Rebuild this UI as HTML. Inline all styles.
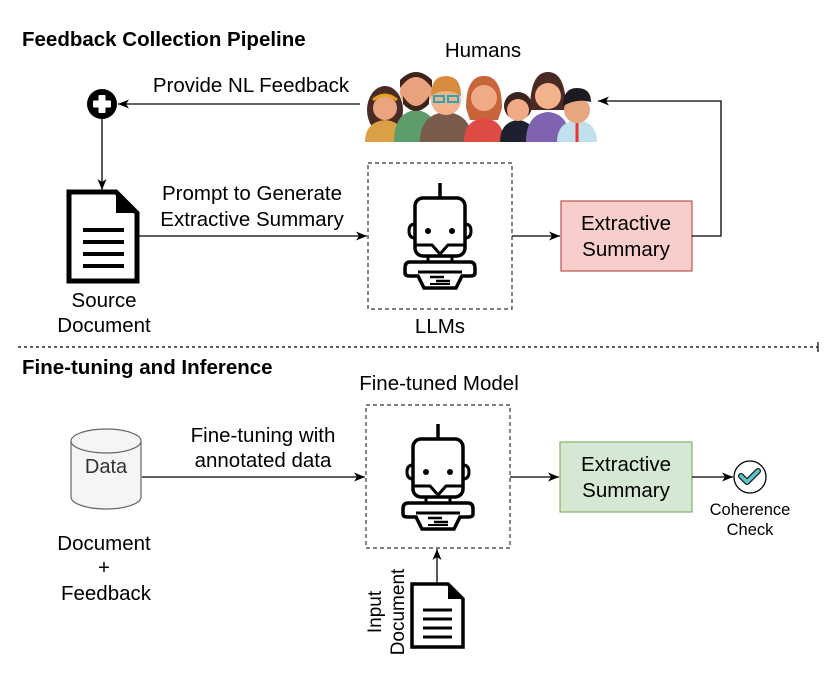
<!DOCTYPE html>
<html><head><meta charset="utf-8"><style>
html,body{margin:0;padding:0;background:#fff;}
svg{display:block;font-family:"Liberation Sans",Arial,sans-serif;}
</style></head><body>
<svg width="830" height="684" viewBox="0 0 830 684" xmlns="http://www.w3.org/2000/svg">
<defs>
<marker id="ar" markerWidth="12" markerHeight="12" refX="11" refY="6" orient="auto" markerUnits="userSpaceOnUse">
<path d="M0,1.5 L11,6 L0,10.5 L3,6 z" fill="#000"/></marker>
<g id="robot">
<line x1="0" y1="-45" x2="0" y2="-30" stroke="#000" stroke-width="3.5"/>
<rect x="-25" y="-30" width="50" height="58" rx="8" fill="none" stroke="#000" stroke-width="3.5"/>
<path d="M-25,-4 q-6,0 -6,7 q0,7 6,7 M25,-4 q6,0 6,7 q0,7 -6,7" fill="none" stroke="#000" stroke-width="3"/>
<circle cx="-12" cy="3" r="3" fill="#000"/><circle cx="12" cy="3" r="3" fill="#000"/>
<path d="M-25,17 L-8,17 L0,26 L8,17 L25,17" fill="none" stroke="#000" stroke-width="3"/>
<rect x="-12" y="28" width="24" height="6" fill="none" stroke="#000" stroke-width="3"/>
<path d="M-30,34 L30,34 Q35,34 35,40 L35,45 Q35,48 30,48 L22,48 L16,60 L-16,60 L-22,48 L-30,48 Q-35,48 -35,45 L-35,40 Q-35,34 -30,34 Z" fill="none" stroke="#000" stroke-width="3.5"/>
<line x1="-22" y1="44" x2="22" y2="44" stroke="#000" stroke-width="3"/>
<line x1="-10" y1="49" x2="4" y2="49" stroke="#000" stroke-width="2.5"/>
<line x1="-4" y1="53" x2="10" y2="53" stroke="#000" stroke-width="2.5"/>
<line x1="-10" y1="56" x2="10" y2="56" stroke="#000" stroke-width="2"/>
</g>
</defs>

<text x="22" y="46" font-size="20.5" font-weight="bold">Feedback Collection Pipeline</text>
<text x="483" y="57" font-size="20.5" text-anchor="middle">Humans</text>

<!-- people -->
<g>
<g transform="translate(385,0)"><ellipse cx="0" cy="110" rx="18" ry="24" fill="#4a2a22"/><path d="M-20,142 q0,-20 20,-22 q20,2 20,22z" fill="#d9a046"/><circle cx="0" cy="108" r="12" fill="#eaa57f"/><path d="M-12,100 q12,-10 24,0" stroke="#e4a11b" stroke-width="3" fill="none"/></g>
<g transform="translate(416,0)"><path d="M-22,142 q0,-30 22,-32 q22,2 22,32z" fill="#5f9c6b"/><circle cx="0" cy="92" r="16" fill="#e9a27c"/><path d="M-16,88 q16,-22 32,0 l0,-8 q-16,-16 -32,0z" fill="#3d2418"/><path d="M-13,96 q13,20 26,0 l0,8 q-13,14 -26,0z" fill="#3d2418"/></g>
<g transform="translate(446,0)"><path d="M-26,142 q0,-28 26,-30 q26,2 26,30z" fill="#7a5b4b"/><circle cx="0" cy="100" r="15" fill="#f1b28c"/><path d="M-15,96 q0,-20 15,-20 q15,0 15,20 q-15,-10 -30,0z" fill="#d88a3e"/><rect x="-12" y="96" width="10" height="6" fill="none" stroke="#2aa6b8" stroke-width="2"/><rect x="2" y="96" width="10" height="6" fill="none" stroke="#2aa6b8" stroke-width="2"/></g>
<g transform="translate(484,0)"><path d="M-18,108 q0,-32 18,-32 q18,0 18,32 l-4,12 l-28,0z" fill="#c8643a"/><path d="M-20,142 q0,-22 20,-24 q20,2 20,24z" fill="#e04a45"/><circle cx="0" cy="98" r="13" fill="#f0aa86"/></g>
<g transform="translate(518,0)"><path d="M-18,142 q0,-20 18,-22 q18,2 18,22z" fill="#1e2030"/><circle cx="0" cy="106" r="14" fill="#3a2420"/><circle cx="0" cy="110" r="11" fill="#f0aa86"/></g>
<g transform="translate(548,0)"><path d="M-18,110 q0,-38 18,-38 q18,0 18,38z" fill="#4a2a22"/><path d="M-22,142 q0,-28 22,-30 q22,2 22,30z" fill="#7f62b0"/><circle cx="0" cy="96" r="13" fill="#f1b28c"/></g>
<g transform="translate(577,0)"><path d="M-20,142 q0,-20 20,-22 q20,2 20,22z" fill="#bfe0ec"/><line x1="0" y1="122" x2="0" y2="142" stroke="#e33" stroke-width="3"/><circle cx="0" cy="110" r="13" fill="#e6a67f"/><path d="M-14,106 q0,-18 14,-18 q14,0 14,14 q-14,-4 -28,4z" fill="#1d1a24"/></g>
</g>

<!-- top flow -->
<circle cx="102" cy="104" r="15" fill="#000"/>
<rect x="93" y="100.5" width="18" height="7" rx="1" fill="#fff"/><rect x="98.5" y="95" width="7" height="18" rx="1" fill="#fff"/>
<line x1="360" y1="104" x2="118" y2="104" stroke="#000" stroke-width="1.3" marker-end="url(#ar)"/>
<text x="251" y="92" font-size="20.5" text-anchor="middle">Provide NL Feedback</text>
<line x1="102" y1="119" x2="102" y2="190" stroke="#000" stroke-width="1.3" marker-end="url(#ar)"/>

<!-- source doc -->
<path d="M69,192 L116,192 L137,213 L137,281 L69,281 Z" fill="#fff" stroke="#000" stroke-width="5"/>
<path d="M116,192 L137,213 L116,213 Z" fill="#000"/>
<g stroke="#000" stroke-width="4"><line x1="83" y1="230" x2="124" y2="230"/><line x1="83" y1="242" x2="124" y2="242"/><line x1="83" y1="254" x2="124" y2="254"/><line x1="83" y1="266" x2="124" y2="266"/></g>
<text x="104" y="307" font-size="20.5" text-anchor="middle">Source</text>
<text x="104" y="332" font-size="20.5" text-anchor="middle">Document</text>

<line x1="139" y1="236" x2="367" y2="236" stroke="#000" stroke-width="1.3" marker-end="url(#ar)"/>
<text x="252" y="200" font-size="20.5" text-anchor="middle">Prompt to Generate</text>
<text x="252" y="226" font-size="20.5" text-anchor="middle">Extractive Summary</text>

<rect x="368" y="163" width="144" height="146" fill="none" stroke="#333" stroke-width="1.2" stroke-dasharray="4,3"/>
<use href="#robot" transform="translate(440,228)"/>
<text x="440" y="333" font-size="20.5" text-anchor="middle">LLMs</text>

<line x1="512" y1="236" x2="560" y2="236" stroke="#000" stroke-width="1.3" marker-end="url(#ar)"/>
<rect x="561" y="201" width="131" height="70" fill="#f8cecc" stroke="#b85450" stroke-width="1.2"/>
<text x="626" y="230" font-size="20.5" text-anchor="middle">Extractive</text>
<text x="626" y="256" font-size="20.5" text-anchor="middle">Summary</text>
<polyline points="692,236 721,236 721,101 598,101" fill="none" stroke="#000" stroke-width="1.3" marker-end="url(#ar)"/>

<!-- separator -->
<line x1="18" y1="347" x2="818" y2="347" stroke="#000" stroke-width="1.2" stroke-dasharray="3,3"/>
<line x1="818" y1="342" x2="818" y2="352" stroke="#000" stroke-width="1.2"/>

<text x="22" y="374" font-size="20.5" font-weight="bold">Fine-tuning and Inference</text>
<text x="439" y="390" font-size="20.5" text-anchor="middle">Fine-tuned Model</text>

<!-- cylinder -->
<path d="M71,441 L71,497 A35,12 0 0 0 141,497 L141,441" fill="#f5f5f5" stroke="#666" stroke-width="1.2"/>
<ellipse cx="106" cy="441" rx="35" ry="12" fill="#f5f5f5" stroke="#666" stroke-width="1.2"/>
<text x="106" y="473" font-size="20" text-anchor="middle" fill="#333">Data</text>
<text x="104" y="550" font-size="20.5" text-anchor="middle">Document</text>
<text x="104" y="574" font-size="20.5" text-anchor="middle">+</text>
<text x="106" y="600" font-size="20.5" text-anchor="middle">Feedback</text>

<line x1="142" y1="477" x2="365" y2="477" stroke="#000" stroke-width="1.3" marker-end="url(#ar)"/>
<text x="263" y="442" font-size="20.5" text-anchor="middle">Fine-tuning with</text>
<text x="263" y="467" font-size="20.5" text-anchor="middle">annotated data</text>

<rect x="366" y="405" width="144" height="143" fill="none" stroke="#333" stroke-width="1.2" stroke-dasharray="4,3"/>
<use href="#robot" transform="translate(438,469)"/>

<line x1="510" y1="477" x2="559" y2="477" stroke="#000" stroke-width="1.3" marker-end="url(#ar)"/>
<rect x="560" y="442" width="132" height="70" fill="#d5e8d4" stroke="#82b366" stroke-width="1.2"/>
<text x="626" y="471" font-size="20.5" text-anchor="middle">Extractive</text>
<text x="626" y="497" font-size="20.5" text-anchor="middle">Summary</text>
<line x1="692" y1="477" x2="733" y2="477" stroke="#000" stroke-width="1.3" marker-end="url(#ar)"/>
<circle cx="750" cy="477" r="16" fill="#fff" stroke="#000" stroke-width="1.3"/>
<path d="M741,476 l6,6 l11,-11" fill="none" stroke="#1a1a1a" stroke-width="6" stroke-linecap="round" stroke-linejoin="round"/>
<path d="M741,476 l6,6 l11,-11" fill="none" stroke="#5ec4cc" stroke-width="3.5" stroke-linecap="round" stroke-linejoin="round"/>
<text x="750" y="515" font-size="16.5" text-anchor="middle">Coherence</text>
<text x="750" y="535" font-size="16.5" text-anchor="middle">Check</text>

<!-- input doc -->
<line x1="437" y1="582" x2="437" y2="549" stroke="#000" stroke-width="1.3" marker-end="url(#ar)"/>
<path d="M412,584 L448,584 L463,599 L463,647 L412,647 Z" fill="#fff" stroke="#000" stroke-width="3.5"/>
<path d="M448,584 L463,599 L448,599 Z" fill="#000"/>
<g stroke="#000" stroke-width="3"><line x1="423" y1="610" x2="452" y2="610"/><line x1="423" y1="619" x2="452" y2="619"/><line x1="423" y1="628" x2="452" y2="628"/><line x1="423" y1="637" x2="452" y2="637"/></g>
<text transform="translate(381,612) rotate(-90)" font-size="19" text-anchor="middle">Input</text>
<text transform="translate(404,612) rotate(-90)" font-size="19" text-anchor="middle">Document</text>
</svg>
</body></html>
